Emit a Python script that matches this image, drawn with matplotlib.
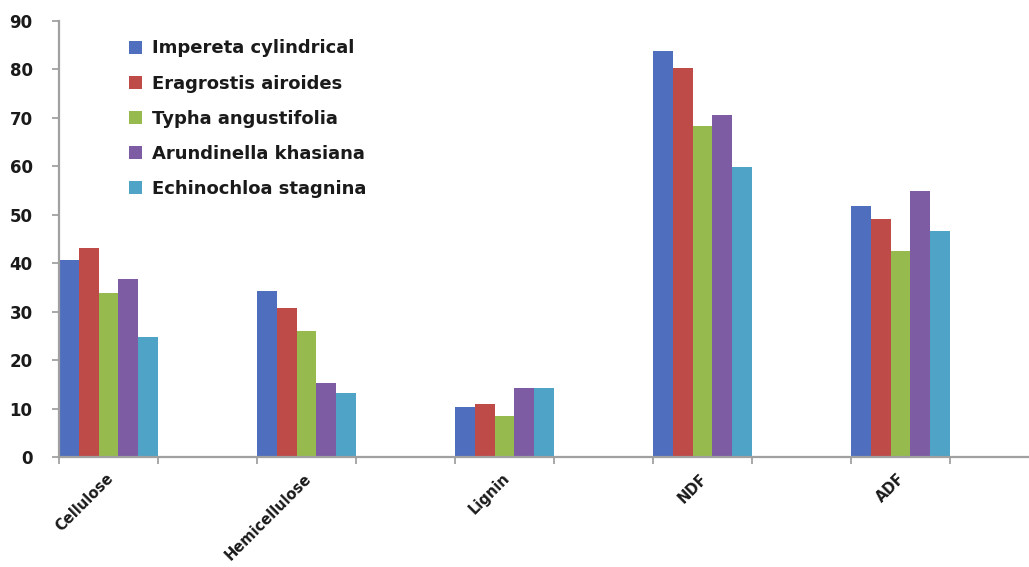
import matplotlib
matplotlib.use("Agg")
import matplotlib.pyplot as plt
import matplotlib.transforms as mtransforms
import numpy as np

categories = ["Cellulose", "Hemicellulose", "Lignin", "NDF", "ADF"]
species = [
    "Impereta cylindrical",
    "Eragrostis airoides",
    "Typha angustifolia",
    "Arundinella khasiana",
    "Echinochloa stagnina",
]
impereta = [40.7, 34.3, 10.3, 83.9, 51.9]
eragrostis = [43.2, 30.8, 11.0, 80.2, 49.2]
typha = [33.9, 26.0, 8.5, 68.4, 42.6]
arundinella = [36.8, 15.3, 14.3, 70.5, 55.0]
echinochloa = [24.8, 13.2, 14.2, 59.9, 46.7]
yticks = [0, 10, 20, 30, 40, 50, 60, 70, 80, 90]

series = [impereta, eragrostis, typha, arundinella, echinochloa]
colors = ["#4F6EBD", "#BE4B48", "#97BA4F", "#7D5CA3", "#4FA3C6"]

fig = plt.figure(figsize=(10.29, 5.67), dpi=100)
ax = fig.add_axes([59 / 1029, 1 - 457 / 567, 1 - 59 / 1029, (457 - 21) / 567])

x = np.arange(len(categories))
bar_w = 0.1
for k, (vals, col) in enumerate(zip(series, colors)):
    ax.bar(x + k * bar_w, vals, width=bar_w, align="edge", color=col,
           edgecolor="none", label=species[k], zorder=2)

ax.set_xlim(0, 970 / 198)
ax.set_ylim(0, 90)
ax.set_yticks(yticks)
ax.set_yticklabels([str(v) for v in yticks], fontsize=12, fontweight="bold",
                   color="#1a1a1a", family="DejaVu Sans")

# category labels under the centre of each bar group
ax.set_xticks(x + 0.25)
ax.set_xticklabels(categories, rotation=45, ha="right", rotation_mode="anchor",
                   fontsize=10.5, fontweight="bold", color="#1a1a1a",
                   family="DejaVu Sans")
ax.tick_params(axis="x", which="major", length=0, pad=10)
shift = mtransforms.ScaledTranslation(-3 / 100, 0, fig.dpi_scale_trans)
for lbl in ax.get_xticklabels():
    lbl.set_transform(lbl.get_transform() + shift)

# boundary marks on either side of each group
ax.set_xticks(np.concatenate([x, x + 0.5]), minor=True)
ax.tick_params(axis="x", which="minor", length=5, width=1.2, color="#9a9a9a",
               direction="out")
ax.tick_params(axis="y", length=5, width=1.2, color="#9a9a9a", direction="out",
               pad=14)

for side in ["top", "right"]:
    ax.spines[side].set_visible(False)
for side in ["left", "bottom"]:
    ax.spines[side].set_color("#a0a0a0")
    ax.spines[side].set_linewidth(1.6)

leg = ax.legend(loc="upper left", bbox_to_anchor=(0.055, 0.995), frameon=False,
                handlelength=0.75, handleheight=0.75, handletextpad=0.55,
                labelspacing=0.95,
                prop={"family": "DejaVu Sans", "weight": "bold", "size": 13})
for t in leg.get_texts():
    t.set_color("#1a1a1a")

fig.savefig("out.png", dpi=100, facecolor="white")
